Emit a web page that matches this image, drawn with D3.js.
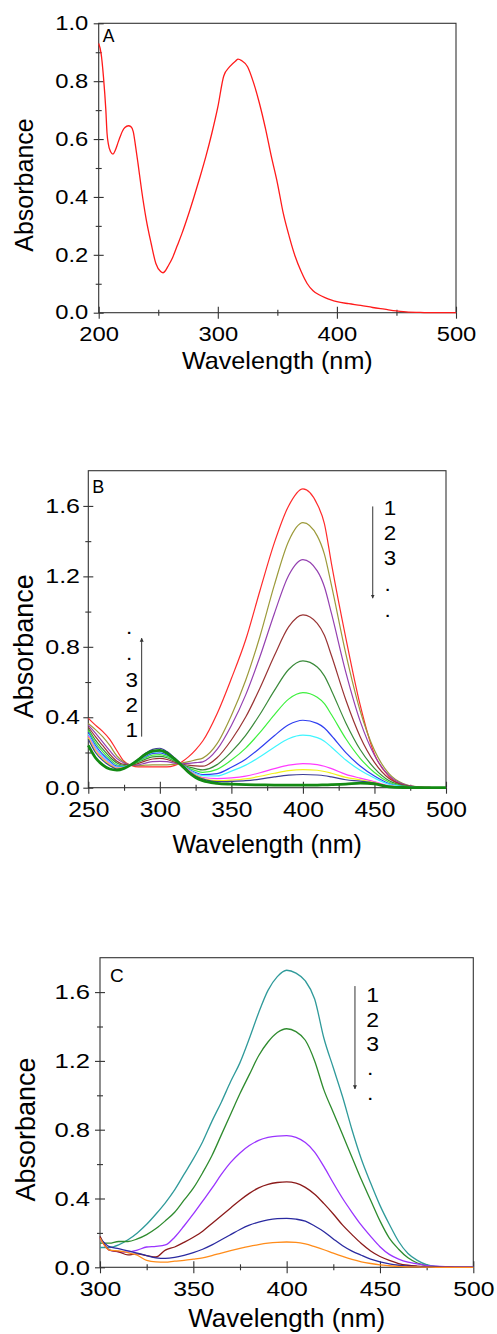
<!DOCTYPE html>
<html>
<head>
<meta charset="utf-8">
<script src="https://cdn.jsdelivr.net/npm/d3@7"></script>
<style>
  html, body { margin: 0; padding: 0; background: #fff; }
  svg { display: block; font-family: "Liberation Sans", Arial, sans-serif; }
</style>
</head>
<body>
<svg id="chart" width="497" height="1334"></svg>
<script>
// ---- panel A : single spectrum ----
const A_WL = [200, 202, 204, 206, 207, 208, 210, 212, 214, 216, 218, 220, 222, 225, 227, 229, 231, 233, 236, 240, 244, 248, 252, 254, 256, 258, 262, 266, 270, 275, 280, 285, 290, 295, 300, 305, 310, 315, 317, 320, 325, 330, 335, 340, 345, 350, 355, 360, 365, 370, 375, 380, 385, 390, 395, 400, 410, 420, 430, 440, 450, 460, 470, 480, 490, 500];
const A_ABS = [0.93, 0.896, 0.815, 0.70, 0.62, 0.585, 0.556, 0.548, 0.562, 0.585, 0.608, 0.628, 0.64, 0.646, 0.643, 0.626, 0.574, 0.516, 0.424, 0.32, 0.24, 0.17, 0.142, 0.138, 0.145, 0.159, 0.19, 0.232, 0.275, 0.335, 0.40, 0.468, 0.54, 0.62, 0.71, 0.818, 0.85, 0.87, 0.876, 0.871, 0.85, 0.795, 0.723, 0.637, 0.539, 0.449, 0.343, 0.263, 0.194, 0.142, 0.101, 0.076, 0.062, 0.052, 0.044, 0.038, 0.031, 0.025, 0.018, 0.012, 0.006, 0.002, 0.001, 0, 0, 0];

// ---- panel B : titration series ----
const B_WL = [250, 255, 260, 265, 270, 275, 280, 285, 290, 295, 300, 305, 310, 315, 320, 325, 330, 340, 350, 360, 370, 380, 390, 400, 410, 415, 420, 430, 440, 450, 460, 470, 480, 490, 500];
const B_RED = [0.394, 0.355, 0.32, 0.275, 0.21, 0.15, 0.127, 0.118, 0.118, 0.118, 0.118, 0.118, 0.125, 0.145, 0.175, 0.215, 0.265, 0.42, 0.62, 0.84, 1.12, 1.39, 1.6, 1.697, 1.61, 1.5, 1.27, 0.85, 0.47, 0.19, 0.065, 0.015, 0.004, 0.001, 0];
const B_OLIVE = [0.365, 0.33, 0.29, 0.24, 0.18, 0.145, 0.128, 0.125, 0.128, 0.13, 0.13, 0.13, 0.132, 0.14, 0.148, 0.158, 0.168, 0.25, 0.41, 0.61, 0.86, 1.15, 1.40, 1.505, 1.43, 1.326, 1.147, 0.76, 0.437, 0.212, 0.081, 0.023, 0.005, 0.001, 0];
const B_PURPLE = [0.355, 0.31, 0.26, 0.21, 0.165, 0.14, 0.128, 0.13, 0.14, 0.148, 0.15, 0.148, 0.14, 0.136, 0.138, 0.142, 0.147, 0.217, 0.353, 0.527, 0.745, 0.988, 1.205, 1.295, 1.231, 1.141, 0.988, 0.655, 0.378, 0.184, 0.07, 0.02, 0.004, 0.001, 0];
const B_BROWN = [0.345, 0.29, 0.24, 0.19, 0.15, 0.132, 0.128, 0.138, 0.152, 0.163, 0.166, 0.16, 0.146, 0.134, 0.128, 0.124, 0.122, 0.17, 0.271, 0.401, 0.566, 0.749, 0.913, 0.981, 0.933, 0.865, 0.749, 0.498, 0.29, 0.144, 0.054, 0.016, 0.003, 0, 0];
const B_DKGREEN = [0.335, 0.27, 0.22, 0.175, 0.14, 0.127, 0.13, 0.145, 0.162, 0.175, 0.178, 0.17, 0.152, 0.133, 0.118, 0.108, 0.101, 0.131, 0.203, 0.297, 0.417, 0.551, 0.671, 0.72, 0.685, 0.635, 0.551, 0.368, 0.217, 0.11, 0.041, 0.012, 0.002, 0, 0];
const B_GREEN = [0.325, 0.255, 0.205, 0.163, 0.13, 0.123, 0.131, 0.15, 0.17, 0.185, 0.188, 0.178, 0.157, 0.133, 0.112, 0.097, 0.087, 0.104, 0.157, 0.225, 0.314, 0.414, 0.503, 0.54, 0.514, 0.477, 0.414, 0.278, 0.167, 0.086, 0.032, 0.009, 0.002, 0, 0];
const B_BLUE = [0.315, 0.24, 0.19, 0.152, 0.122, 0.12, 0.132, 0.155, 0.178, 0.195, 0.198, 0.186, 0.162, 0.134, 0.106, 0.086, 0.074, 0.08, 0.116, 0.162, 0.225, 0.295, 0.357, 0.383, 0.365, 0.339, 0.295, 0.199, 0.123, 0.066, 0.024, 0.007, 0.001, 0, 0];
const B_CYAN = [0.305, 0.23, 0.18, 0.145, 0.117, 0.118, 0.132, 0.157, 0.182, 0.2, 0.204, 0.19, 0.165, 0.134, 0.103, 0.08, 0.068, 0.067, 0.094, 0.128, 0.176, 0.23, 0.278, 0.298, 0.284, 0.264, 0.23, 0.157, 0.099, 0.055, 0.02, 0.006, 0.001, 0, 0];
const B_MAGENTA = [0.295, 0.22, 0.17, 0.138, 0.113, 0.116, 0.132, 0.158, 0.185, 0.204, 0.208, 0.193, 0.167, 0.134, 0.1, 0.073, 0.058, 0.052, 0.056, 0.066, 0.085, 0.108, 0.128, 0.137, 0.131, 0.122, 0.108, 0.076, 0.054, 0.034, 0.012, 0.004, 0, 0, 0];
const B_YELLOW = [0.285, 0.21, 0.163, 0.132, 0.11, 0.114, 0.132, 0.16, 0.188, 0.207, 0.212, 0.196, 0.168, 0.134, 0.098, 0.07, 0.053, 0.04, 0.043, 0.05, 0.065, 0.082, 0.097, 0.103, 0.099, 0.092, 0.082, 0.059, 0.045, 0.029, 0.01, 0.003, 0, 0, 0];
const B_NAVY = [0.275, 0.2, 0.155, 0.125, 0.106, 0.112, 0.132, 0.163, 0.195, 0.218, 0.224, 0.205, 0.172, 0.135, 0.097, 0.067, 0.05, 0.034, 0.036, 0.04, 0.049, 0.061, 0.071, 0.075, 0.072, 0.068, 0.061, 0.045, 0.037, 0.026, 0.009, 0.003, 0, 0, 0];
const B_FINAL = [0.24, 0.17, 0.13, 0.106, 0.1, 0.11, 0.131, 0.16, 0.19, 0.208, 0.212, 0.196, 0.165, 0.128, 0.088, 0.058, 0.04, 0.025, 0.02, 0.017, 0.016, 0.015, 0.015, 0.015, 0.015, 0.016, 0.017, 0.02, 0.026, 0.022, 0.005, 0.001, 0, 0, 0];

// ---- panel C ----
const C_WL = [300, 305, 310, 315, 320, 325, 330, 335, 340, 345, 350, 355, 360, 365, 370, 375, 380, 385, 390, 395, 400, 405, 410, 415, 420, 425, 430, 435, 440, 445, 450, 455, 460, 465, 470, 475, 480, 485, 490, 495, 500];
const C_TEAL = [0.115, 0.115, 0.13, 0.16, 0.2, 0.25, 0.31, 0.375, 0.45, 0.54, 0.63, 0.73, 0.85, 0.96, 1.08, 1.19, 1.33, 1.48, 1.61, 1.69, 1.727, 1.71, 1.665, 1.56, 1.33, 1.16, 0.99, 0.8, 0.63, 0.49, 0.36, 0.25, 0.15, 0.08, 0.04, 0.015, 0.005, 0.002, 0.001, 0, 0];
const C_GREEN = [0.14, 0.14, 0.15, 0.15, 0.165, 0.19, 0.225, 0.27, 0.32, 0.39, 0.46, 0.55, 0.65, 0.77, 0.89, 1.01, 1.12, 1.23, 1.31, 1.365, 1.387, 1.37, 1.32, 1.2, 1.03, 0.9, 0.77, 0.64, 0.51, 0.39, 0.27, 0.17, 0.105, 0.055, 0.025, 0.01, 0.004, 0.002, 0.001, 0, 0];
const C_PURPLE = [0.17, 0.1, 0.09, 0.088, 0.1, 0.118, 0.122, 0.13, 0.175, 0.24, 0.31, 0.385, 0.46, 0.54, 0.61, 0.665, 0.708, 0.738, 0.755, 0.763, 0.765, 0.755, 0.725, 0.67, 0.585, 0.49, 0.4, 0.32, 0.245, 0.18, 0.12, 0.075, 0.048, 0.03, 0.02, 0.01, 0.006, 0.004, 0.003, 0.002, 0.002];
const C_MAROON = [0.18, 0.1, 0.09, 0.072, 0.078, 0.068, 0.06, 0.1, 0.118, 0.145, 0.175, 0.21, 0.255, 0.3, 0.345, 0.39, 0.43, 0.462, 0.482, 0.493, 0.497, 0.49, 0.465, 0.425, 0.37, 0.31, 0.245, 0.19, 0.138, 0.095, 0.063, 0.04, 0.022, 0.012, 0.007, 0.004, 0.002, 0.001, 0, 0, 0];
const C_BLUE = [0.17, 0.12, 0.108, 0.095, 0.083, 0.068, 0.055, 0.052, 0.058, 0.07, 0.085, 0.105, 0.13, 0.16, 0.19, 0.22, 0.245, 0.263, 0.276, 0.283, 0.285, 0.28, 0.268, 0.24, 0.207, 0.165, 0.125, 0.094, 0.07, 0.048, 0.032, 0.02, 0.012, 0.007, 0.004, 0.002, 0.001, 0, 0, 0, 0];
const C_ORANGE = [0.17, 0.1, 0.095, 0.085, 0.07, 0.04, 0.031, 0.03, 0.036, 0.04, 0.047, 0.055, 0.068, 0.083, 0.097, 0.11, 0.122, 0.132, 0.14, 0.145, 0.147, 0.145, 0.136, 0.12, 0.102, 0.082, 0.063, 0.046, 0.032, 0.022, 0.014, 0.009, 0.005, 0.003, 0.002, 0.001, 0, 0, 0, 0, 0];

const Y_TICKS_A = [0, 0.2, 0.4, 0.6, 0.8, 1.0];
const Y_MINOR_A = [0.1, 0.3, 0.5, 0.7, 0.9];
const X_TICKS_A = [200, 300, 400, 500];
const X_MINOR_A = [250, 350, 450];
const Y_TICKS_BC = [0, 0.4, 0.8, 1.2, 1.6];
const Y_MINOR_BC = [0.2, 0.6, 1.0, 1.4];
const X_TICKS_B = [250, 300, 350, 400, 450, 500];
const X_MINOR_B = [275, 325, 375, 425, 475];
const X_TICKS_C = [300, 350, 400, 450, 500];
const X_MINOR_C = [325, 375, 425, 475];
const ORDER_LABELS = ['1', '2', '3', '.', '.'];

const SVG = d3.select('#chart');
const AXIS_COLOR = '#333';
const TEXT_COLOR = '#000';

SVG.append('defs')
  .append('marker')
  .attr('id', 'head')
  .attr('viewBox', '0 0 10 10')
  .attr('refX', 9)
  .attr('refY', 5)
  .attr('markerWidth', 4)
  .attr('markerHeight', 7)
  .attr('markerUnits', 'userSpaceOnUse')
  .attr('orient', 'auto')
  .append('path')
  .attr('d', 'M0,0L10,5L0,10z')
  .style('fill', AXIS_COLOR);

// the source figure's lettering is a little wider than Arial, so widen it
function widen(sel, sx) {
  sel.each(function () {
    const x = +(this.getAttribute('x') || 0);
    d3.select(this).attr('x', x / sx).attr('transform', `scale(${sx},1)`);
  });
}

function drawPanel(p) {
  const X = d3.scaleLinear().domain(p.xDomain).range([p.left, p.right]);
  const Y = d3.scaleLinear().domain(p.yDomain).range([p.bottom, p.top]);
  const G = SVG.append('g').attr('id', p.id);

  G.append('rect')
    .attr('x', p.left)
    .attr('y', p.top)
    .attr('width', p.right - p.left)
    .attr('height', p.bottom - p.top)
    .style('fill', 'none')
    .style('stroke', AXIS_COLOR)
    .style('stroke-width', 1.1);

  const tidy = (g) => {
    g.select('.domain').remove();
    g.selectAll('line').style('stroke', AXIS_COLOR).style('stroke-width', 1.1);
  };

  // y axis, ticks cross the axis line
  const yAt = G.append('g').attr('transform', `translate(${p.left},0)`);
  d3.axisLeft(Y).tickValues(p.yTicks).tickSize(5).tickPadding(p.yGap - 5).tickFormat(d3.format('.1f'))(yAt);
  tidy(yAt);
  yAt.selectAll('text').style('font-size', p.yTickFont + 'px').style('fill', TEXT_COLOR);
  widen(yAt.selectAll('text'), p.yTickSx);
  [
    [d3.axisRight, p.yTicks, 5],
    [d3.axisLeft, p.yMinor, 3],
    [d3.axisRight, p.yMinor, 3],
  ].forEach(([axis, vals, size]) => {
    const g = G.append('g').attr('transform', `translate(${p.left},0)`);
    axis(Y).tickValues(vals).tickSize(size).tickFormat('')(g);
    tidy(g);
  });

  // x axis
  const xAt = G.append('g').attr('transform', `translate(0,${p.bottom})`);
  d3.axisBottom(X).tickValues(p.xTicks).tickSize(6).tickPadding(8).tickFormat(d3.format('d'))(xAt);
  tidy(xAt);
  xAt.selectAll('text').style('font-size', p.xTickFont + 'px').style('fill', TEXT_COLOR);
  widen(xAt.selectAll('text'), p.xTickSx);
  [
    [d3.axisTop, p.xTicks, 6],
    [d3.axisBottom, p.xMinor, 3],
    [d3.axisTop, p.xMinor, 3],
  ].forEach(([axis, vals, size]) => {
    const g = G.append('g').attr('transform', `translate(0,${p.bottom})`);
    axis(X).tickValues(vals).tickSize(size).tickFormat('')(g);
    tidy(g);
  });

  // axis titles
  const xTitle = G.append('text')
    .attr('x', (p.left + p.right) / 2)
    .attr('y', p.bottom + p.xTitleOff)
    .style('text-anchor', 'middle')
    .style('font-size', p.xTitleFont + 'px')
    .style('fill', TEXT_COLOR)
    .text('Wavelength (nm)');
  widen(xTitle, p.xTitleSx);
  G.append('text')
    .attr('transform', `translate(${p.yTitleX},${(p.top + p.bottom) / 2 + 17}) rotate(-90)`)
    .style('text-anchor', 'middle')
    .style('font-size', p.yTitleFont + 'px')
    .style('fill', TEXT_COLOR)
    .text('Absorbance');

  // panel letter
  G.append('text')
    .attr('x', p.left + p.letterDx)
    .attr('y', p.top + p.letterDy)
    .style('font-size', p.letterFont + 'px')
    .style('fill', TEXT_COLOR)
    .text(p.letter);

  // spectra
  const line = d3
    .line()
    .x((d) => X(d[0]))
    .y((d) => Y(d[1]))
    .curve(d3.curveMonotoneX);
  G.append('g')
    .selectAll('path')
    .data(p.series)
    .join('path')
    .attr('d', (s) => line(s.wl.map((w, i) => [w, s.abs[i]])))
    .style('fill', 'none')
    .style('stroke', (s) => s.color)
    .style('stroke-width', (s) => s.width)
    .style('stroke-linejoin', 'round');

  // order arrows with 1, 2, 3 . .
  (p.arrows || []).forEach((a) => {
    G.append('line')
      .attr('x1', X(a.x))
      .attr('x2', X(a.x))
      .attr('y1', Y(a.from))
      .attr('y2', Y(a.to))
      .attr('marker-end', 'url(#head)')
      .style('stroke', AXIS_COLOR)
      .style('stroke-width', 1);
    const labels = G.append('g')
      .selectAll('text')
      .data(ORDER_LABELS)
      .join('text')
      .attr('x', (d) => X(a.labelX) - (d === '.' ? 2.5 : 0))
      .attr('y', (d, i) => Y(a.labelY[i]))
      .style('text-anchor', 'middle')
      .style('font-size', a.font + 'px')
      .style('fill', TEXT_COLOR)
      .text((d) => d);
    widen(labels, 1.15);
  });
}

drawPanel({
  id: 'panelA',
  left: 98.7, right: 456, top: 23.3, bottom: 312.7,
  xDomain: [200, 500], yDomain: [0, 1],
  xTicks: X_TICKS_A, xMinor: X_MINOR_A, yTicks: Y_TICKS_A, yMinor: Y_MINOR_A,
  yTickFont: 19.5, yTickSx: 1.22, yGap: 10.4, xTickFont: 19.5, xTickSx: 1.22,
  xTitleFont: 24, xTitleSx: 1.05, xTitleOff: 56, yTitleFont: 25, yTitleX: 33,
  letter: 'A', letterDx: 4, letterDy: 18.5, letterFont: 17.5,
  series: [{ wl: A_WL, abs: A_ABS, color: '#ff1a1a', width: 1.3 }],
});

drawPanel({
  id: 'panelB',
  left: 88.3, right: 446, top: 470.7, bottom: 787.7,
  xDomain: [250, 500], yDomain: [0, 1.8],
  xTicks: X_TICKS_B, xMinor: X_MINOR_B, yTicks: Y_TICKS_BC, yMinor: Y_MINOR_BC,
  yTickFont: 20, yTickSx: 1.25, yGap: 8.3, xTickFont: 22, xTickSx: 1.12,
  xTitleFont: 25, xTitleSx: 1.0, xTitleOff: 65, yTitleFont: 27, yTitleX: 33,
  letter: 'B', letterDx: 4, letterDy: 22, letterFont: 18,
  series: [
    { wl: B_WL, abs: B_RED, color: '#ff2b2b', width: 1.2 },
    { wl: B_WL, abs: B_OLIVE, color: '#9c9a3a', width: 1.2 },
    { wl: B_WL, abs: B_PURPLE, color: '#9440b0', width: 1.2 },
    { wl: B_WL, abs: B_BROWN, color: '#993333', width: 1.2 },
    { wl: B_WL, abs: B_DKGREEN, color: '#3a8a3a', width: 1.2 },
    { wl: B_WL, abs: B_GREEN, color: '#3df03d', width: 1.2 },
    { wl: B_WL, abs: B_BLUE, color: '#2f3ff0', width: 1.2 },
    { wl: B_WL, abs: B_CYAN, color: '#3ff5ff', width: 1.2 },
    { wl: B_WL, abs: B_MAGENTA, color: '#ff3cff', width: 1.2 },
    { wl: B_WL, abs: B_YELLOW, color: '#f2f21a', width: 1.2 },
    { wl: B_WL, abs: B_NAVY, color: '#3d3d95', width: 1.2 },
    { wl: B_WL, abs: B_FINAL, color: '#138a13', width: 2.8 },
  ],
  arrows: [
    { x: 448.8, from: 1.597, to: 1.076, labelX: 460.9, labelY: [1.55, 1.407, 1.265, 1.117, 0.972], font: 19.5 },
    { x: 287.3, from: 0.29, to: 0.849, labelX: 280.3, labelY: [0.29, 0.432, 0.574, 0.726, 0.87], font: 19.5 },
  ],
});

drawPanel({
  id: 'panelC',
  left: 100, right: 473.3, top: 957.7, bottom: 1267.3,
  xDomain: [300, 500], yDomain: [0, 1.8],
  xTicks: X_TICKS_C, xMinor: X_MINOR_C, yTicks: Y_TICKS_BC, yMinor: Y_MINOR_BC,
  yTickFont: 21, yTickSx: 1.22, yGap: 10, xTickFont: 21, xTickSx: 1.18,
  xTitleFont: 26, xTitleSx: 1.0, xTitleOff: 60, yTitleFont: 27, yTitleX: 35,
  letter: 'C', letterDx: 10, letterDy: 24, letterFont: 19,
  series: [
    { wl: C_WL, abs: C_TEAL, color: '#2f9a9a', width: 1.3 },
    { wl: C_WL, abs: C_GREEN, color: '#2e8b2e', width: 1.3 },
    { wl: C_WL, abs: C_PURPLE, color: '#9a33ff', width: 1.3 },
    { wl: C_WL, abs: C_MAROON, color: '#8b1a1a', width: 1.3 },
    { wl: C_WL, abs: C_BLUE, color: '#2a2aa0', width: 1.3 },
    { wl: C_WL, abs: C_ORANGE, color: '#ff8c1a', width: 1.3 },
  ],
  arrows: [
    { x: 436.6, from: 1.635, to: 1.037, labelX: 446.1, labelY: [1.542, 1.396, 1.256, 1.12, 0.975], font: 20 },
  ],
});
</script>
</body>
</html>
